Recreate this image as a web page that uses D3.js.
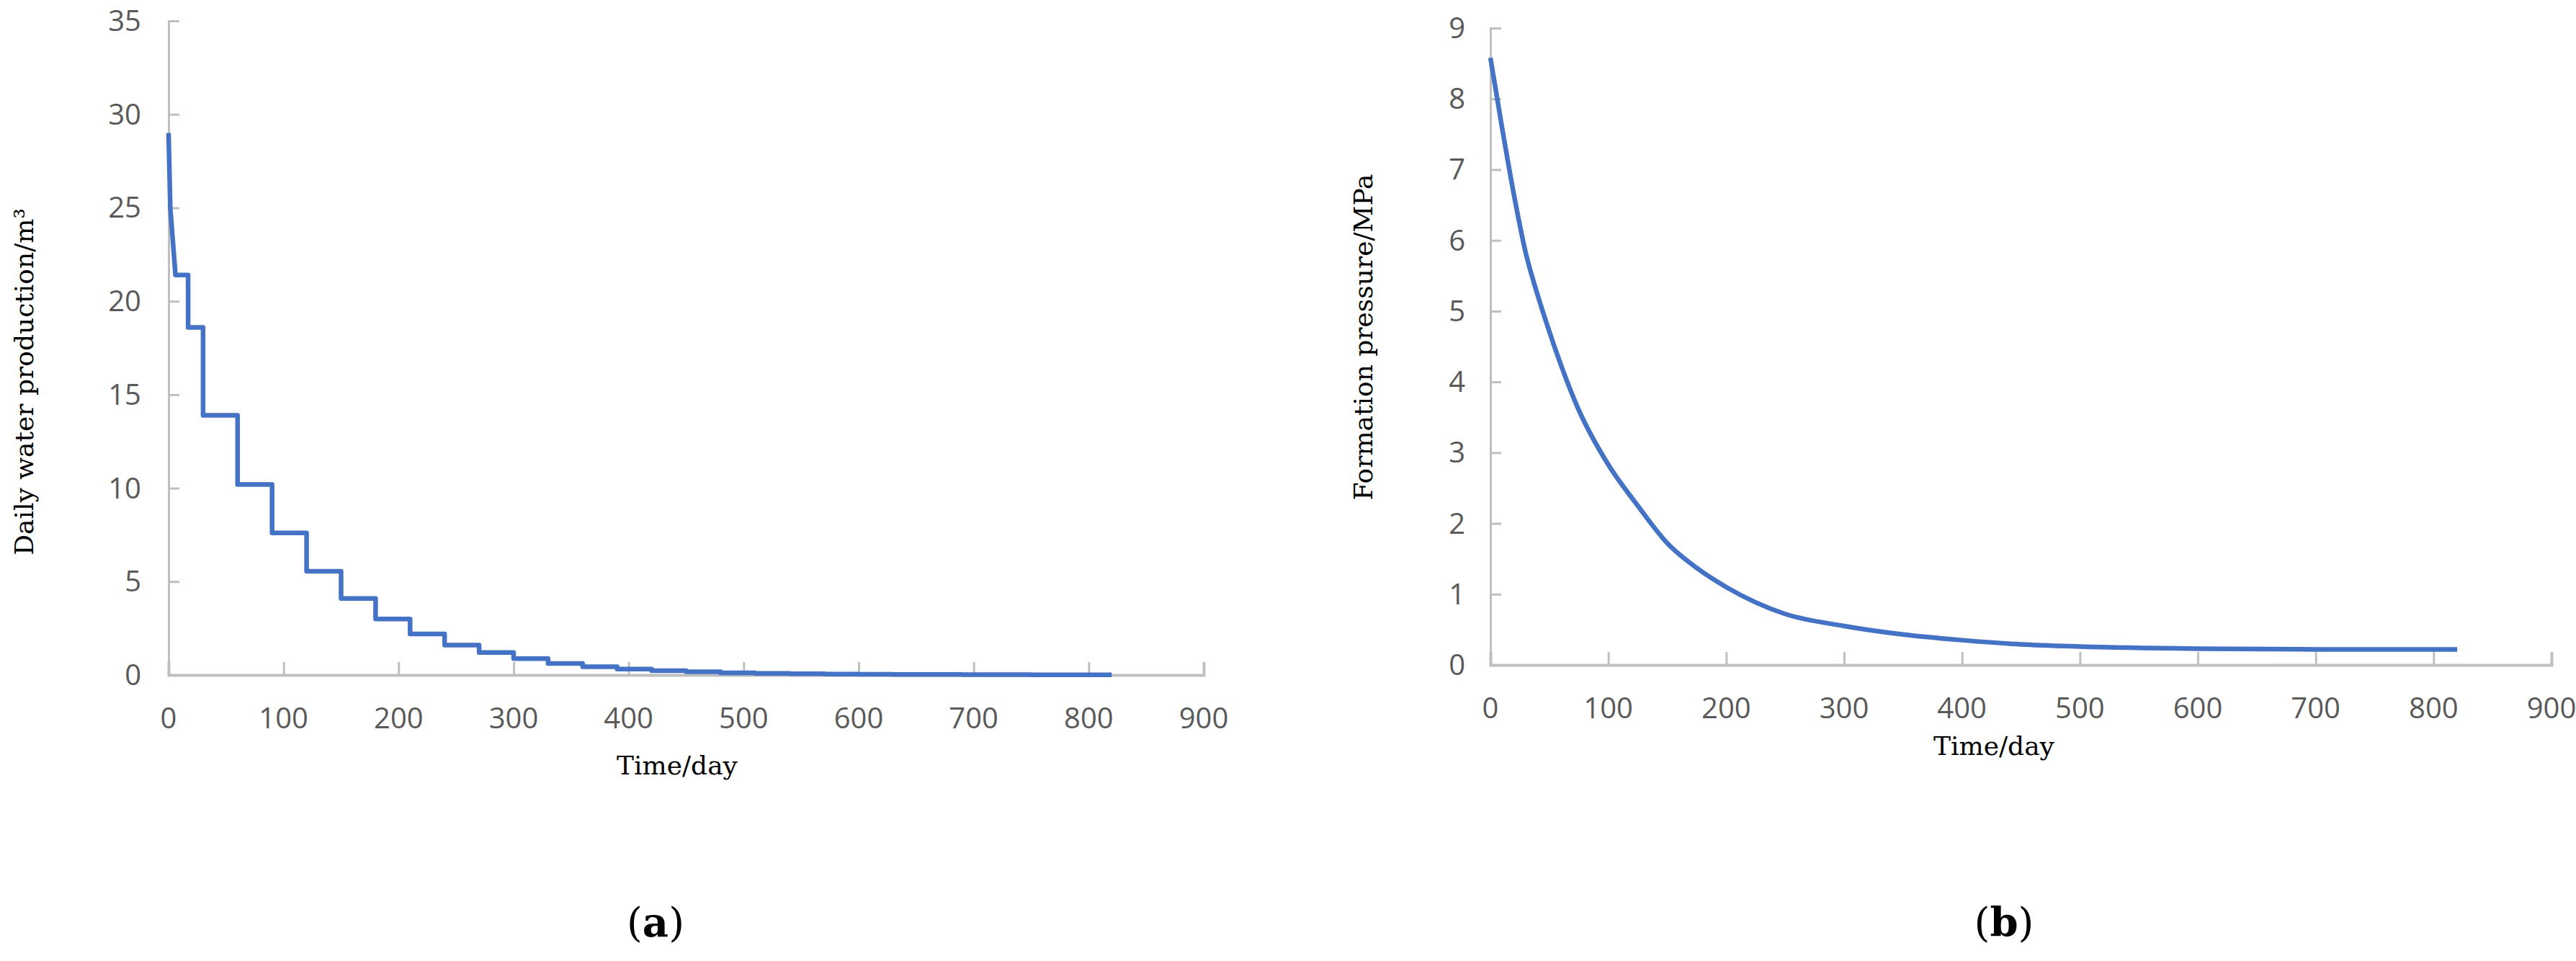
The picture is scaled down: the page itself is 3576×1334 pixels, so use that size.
<!DOCTYPE html>
<html>
<head>
<meta charset="utf-8">
<script src="https://cdn.jsdelivr.net/npm/d3@7"></script>
<style>
  body { margin: 0; background: #fff; }
  .tick text { font-family: "Open Sans", sans-serif; font-size: 40px; fill: #595959; }
  .ttl { font-family: "DejaVu Serif", serif; font-size: 36px; fill: #000; }
</style>
</head>
<body>
<div id="chart"></div>
<script>
// (a) daily water production: early decline then 30-day steps
var earlyT = [0, 1.5, 6, 17];
var earlyQ = [29, 25, 21.4, 21.4];
var stepStart = [17, 30, 60, 90, 120, 150, 180, 210, 240, 270, 300, 330, 360, 390, 420,
  450, 480, 510, 540, 570, 600, 630, 660, 690, 720, 750, 780, 810];
var stepQ = [18.6, 13.9, 10.2, 7.6, 5.55, 4.1, 3.0, 2.2, 1.6, 1.2, 0.88, 0.62, 0.44, 0.32, 0.23,
  0.17, 0.12, 0.09, 0.07, 0.05, 0.04, 0.03, 0.025, 0.02, 0.015, 0.012, 0.01, 0.008];
var endDay = 820;

// (b) formation pressure
var pressT = [0, 10, 20, 30, 40, 50, 75, 100, 125, 150, 175, 200, 250, 300, 350, 400, 450, 500, 600, 700, 820];
var pressP = [8.58, 7.58, 6.64, 5.82, 5.23, 4.71, 3.6, 2.83, 2.25, 1.72, 1.37, 1.1, 0.72, 0.55, 0.43, 0.35, 0.29, 0.26, 0.23, 0.22, 0.22];

var xTicks = [0, 100, 200, 300, 400, 500, 600, 700, 800, 900];

var svg = d3.select("#chart").append("svg")
  .attr("width", 3576).attr("height", 1334);

// build water vertices from the arrays
var water = earlyT.map((t, i) => [t, earlyQ[i]]);
stepStart.forEach((t, i) => {
  var next = i < stepStart.length - 1 ? stepStart[i + 1] : endDay;
  water.push([t, stepQ[i]]);
  water.push([next, stepQ[i]]);
});
var press = pressT.map((t, i) => [t, pressP[i]]);

function panel(cfg) {
  var x = d3.scaleLinear().domain([0, 900]).range([cfg.x0, cfg.x1]);
  var y = d3.scaleLinear().domain([0, cfg.ymax]).range([cfg.y0, cfg.y1]);
  var g = svg.append("g");

  // y axis
  var ya = g.append("g").attr("transform", "translate(" + cfg.x0 + ",0)")
    .call(d3.axisRight(y).tickValues(d3.range(0, cfg.ymax + 1, cfg.ystep)).tickSize(15).tickFormat(""));
  ya.selectAll("line, path").attr("stroke", "#bfbfbf").attr("stroke-width", 3);
  g.selectAll(".ylab").data(d3.range(0, cfg.ymax + 1, cfg.ystep)).enter().append("text")
    .attr("class", "tick").append("tspan")
  ;
  g.append("g").selectAll("text").data(d3.range(0, cfg.ymax + 1, cfg.ystep)).enter().append("text")
    .attr("x", cfg.x0 - cfg.ylabGap).attr("y", d => y(d)).attr("dy", "0.35em")
    .attr("text-anchor", "end")
    .style("font-family", "'Open Sans', sans-serif").style("font-size", "40px").style("fill", "#595959")
    .text(d => d);

  // x axis
  var xa = g.append("g").attr("transform", "translate(0," + cfg.y0 + ")")
    .call(d3.axisTop(x).tickValues(xTicks).tickSize(18).tickFormat(""));
  xa.selectAll("line, path").attr("stroke", "#bfbfbf").attr("stroke-width", 3);
  xa.select("path").attr("stroke-width", 4);
  g.append("g").selectAll("text").data(xTicks).enter().append("text")
    .attr("x", d => x(d)).attr("y", cfg.y0 + 60).attr("dy", "0.35em")
    .attr("text-anchor", "middle")
    .style("font-family", "'Open Sans', sans-serif").style("font-size", "40px").style("fill", "#595959")
    .text(d => d);

  g.append("path").datum(cfg.data)
    .attr("fill", "none").attr("stroke", "#4472C4").attr("stroke-width", 6.5)
    .attr("stroke-linejoin", "round")
    .attr("d", d3.line().x(d => x(d[0])).y(d => y(d[1])).curve(cfg.curve));

  g.append("text").attr("class", "ttl").attr("x", cfg.xlabX).attr("y", cfg.xlabY)
    .attr("text-anchor", "middle").text("Time/day");
  g.append("text").attr("class", "ttl")
    .attr("transform", "translate(" + cfg.ylabX + "," + cfg.ylabY + ") rotate(-90)")
    .attr("text-anchor", "middle").text(cfg.ylab);
  var cap = g.append("text").attr("x", cfg.capX).attr("y", 1300)
    .attr("text-anchor", "middle").style("font-family", "'DejaVu Serif', serif").style("font-size", "56px");
  cap.append("tspan").text("(");
  cap.append("tspan").style("font-weight", "bold").text(cfg.cap);
  cap.append("tspan").text(")");
}

panel({ x0: 234, x1: 1671, y0: 937, y1: 29, ymax: 35, ystep: 5, ylabGap: 38,
  data: water, curve: d3.curveLinear, xlabX: 940, xlabY: 1075,
  ylab: "Daily water production/m³", ylabX: 46, ylabY: 530, capX: 910, cap: "a" });

panel({ x0: 2069, x1: 3542, y0: 923, y1: 39, ymax: 9, ystep: 1, ylabGap: 35,
  data: press, curve: d3.curveMonotoneX, xlabX: 2768, xlabY: 1048,
  ylab: "Formation pressure/MPa", ylabX: 1905, ylabY: 468, capX: 2782, cap: "b" });
</script>
</body>
</html>
